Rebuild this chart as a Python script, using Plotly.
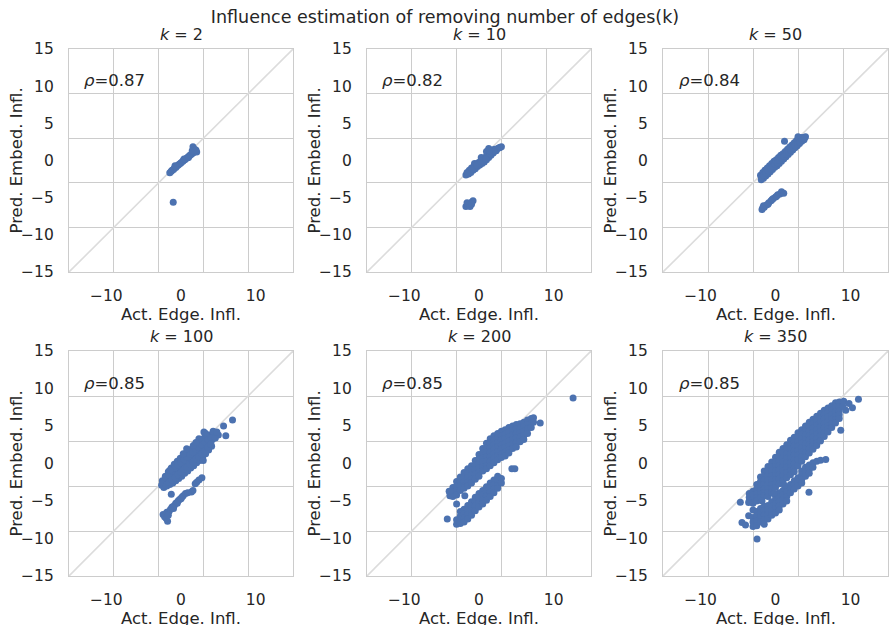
import plotly.graph_objects as go

# ---------------- data ----------------
k_values = [2, 10, 50, 100, 200, 350]
rho_values = [0.87, 0.82, 0.84, 0.85, 0.85, 0.85]
x_ticks = [-10, 0, 10]
y_ticks = [-15, -10, -5, 0, 5, 10, 15]
axis_range = [-15, 15]
diag = [-15, 15]
x_label = "Act. Edge. Infl."
y_label = "Pred. Embed. Infl."
main_title = "Influence estimation of removing number of edges(k)"

k2_points = [(-1.5, -1.65), (-1.3, -1.45), (-1.2, -1.3), (-1.0, -1.2), (-0.9, -1.05), (-0.7, -0.95),
             (-0.6, -0.8), (-0.4, -0.65), (-0.3, -0.55), (-0.1, -0.4), (0.0, -0.3), (0.2, -0.15),
             (0.3, -0.05), (0.5, 0.1), (0.6, 0.2), (0.8, 0.35), (0.9, 0.45), (1.1, 0.6), (1.2, 0.7),
             (1.4, 0.85), (1.6, 1.0), (1.7, 1.1), (1.9, 1.2), (2.1, 1.15), (1.6, 1.85), (-0.8, -0.7),
             (0.4, 0.2), (1.0, 0.4), (1.8, 1.5), (1.5, 1.3), (2.0, 1.4), (-1.04, -5.6)]

k10_points = [(-1.75, -1.95), (-1.6, -1.6), (-1.4, -1.8), (-1.3, -1.3), (-1.1, -1.6), (-1.0, -1.0),
              (-0.8, -1.3), (-0.7, -0.8), (-0.5, -1.1), (-0.4, -0.5), (-0.2, -0.8), (-0.1, -0.3),
              (0.1, -0.6), (0.2, -0.1), (0.4, -0.4), (0.5, 0.2), (0.7, -0.2), (0.8, 0.4), (1.0, 0.1),
              (1.1, 0.8), (1.3, 0.4), (1.3, 1.6), (1.5, 1.2), (1.6, 0.7), (1.8, 1.4), (1.9, 1.0),
              (2.1, 1.5), (2.3, 1.3), (2.5, 1.6), (2.7, 1.7), (3.0, 1.85), (1.0, 1.2), (0.3, 0.4),
              (-0.6, -0.4), (-1.5, -1.75), (-0.9, -1.15), (-0.3, -0.6), (0.3, -0.1), (0.9, 0.25),
              (1.5, 0.9), (2.2, 1.4), (2.8, 1.75), (2.0, 1.2), (1.4, 1.3),
              (-1.75, -6.2), (-1.5, -6.0), (-1.3, -5.8), (-1.0, -5.6), (-0.8, -5.4),
              (-1.6, -5.7), (-1.2, -6.2), (-1.0, -5.9)]

k50_points = [(-2.0, -2.0), (-1.9, -2.6), (-1.7, -1.6), (-1.6, -2.4), (-1.4, -1.3), (-1.3, -2.1),
              (-1.1, -1.0), (-1.0, -1.8), (-0.8, -0.7), (-0.7, -1.5), (-0.5, -0.4), (-0.4, -1.2),
              (-0.2, -0.1), (-0.1, -0.9), (0.1, 0.1), (0.2, -0.7), (0.4, 0.4), (0.5, -0.4),
              (0.7, 0.7), (0.8, -0.1), (1.0, 0.9), (1.1, 0.2), (1.3, 1.2), (1.4, 0.5), (1.6, 1.5),
              (1.7, 0.8), (1.9, 1.8), (2.0, 1.1), (2.2, 2.1), (2.3, 1.4), (2.5, 2.4), (2.6, 1.7),
              (2.8, 2.7), (2.9, 2.0), (3.1, 2.9), (3.2, 2.3), (3.4, 3.1), (3.5, 2.6), (3.7, 3.1),
              (3.8, 2.8), (4.0, 3.2), (3.0, 3.2), (1.2, 2.6), (0.0, -0.4), (1.5, 1.0), (2.6, 2.1),
              (-1.2, -1.5),
              (-1.85, -2.2), (-1.55, -1.95), (-1.25, -1.65), (-0.95, -1.4), (-0.65, -1.1),
              (-0.35, -0.8), (-0.05, -0.55), (0.25, -0.3), (0.55, 0.0), (0.85, 0.3), (1.15, 0.55),
              (1.45, 0.85), (1.75, 1.1), (2.05, 1.4), (2.35, 1.7), (2.65, 1.95), (2.95, 2.2),
              (3.25, 2.5), (3.55, 2.8), (3.85, 3.0),
              (-1.8, -6.6), (-1.5, -6.3), (-1.2, -6.0), (-0.9, -5.7), (-0.6, -5.4),
              (-0.3, -5.1), (0.0, -4.9), (0.3, -4.6), (0.6, -4.5), (0.8, -4.2), (1.1, -4.4),
              (-1.6, -6.1), (-1.0, -5.9), (-1.7, -6.35), (-0.45, -5.25), (0.15, -4.8)]

k100_points = [(-2.5, -2.3), (-2.1, -1.7), (-1.7, -1.1), (-1.3, -0.6), (-0.9, -0.1), (-0.5, 0.3),
               (-0.1, 0.7), (0.3, 1.0), (0.7, 1.4), (1.1, 1.7), (1.5, 2.0), (1.9, 2.4), (2.3, 2.8),
               (2.7, 3.1), (3.1, 3.4), (3.5, 3.6), (3.9, 3.8), (4.3, 4.0),
               (-2.6, -2.9), (-2.2, -2.6), (-1.8, -2.2), (-1.4, -1.9), (-1.0, -1.5), (-0.6, -1.1),
               (-0.2, -0.8), (0.2, -0.4), (0.6, -0.1), (1.0, 0.3), (1.4, 0.7), (1.8, 1.0), (2.2, 1.4),
               (2.6, 1.7), (3.0, 2.1), (3.4, 2.5), (3.8, 2.8), (4.2, 3.2),
               (-2.3, -3.2), (-1.9, -3.0), (-1.5, -2.8), (-1.1, -2.6), (-0.7, -2.3), (-0.3, -2.0),
               (0.1, -1.7), (0.5, -1.3), (0.9, -1.0), (1.3, -0.6), (1.7, -0.3), (2.1, 0.1), (2.5, 0.4),
               (2.9, 0.8), (3.3, 1.3), (3.7, 1.8), (4.1, 2.3),
               (-2.4, -2.5), (-2.0, -1.9), (-1.6, -1.5), (-1.2, -1.0), (-0.8, -0.6), (-0.4, -0.2),
               (0.0, 0.1), (0.4, 0.5), (0.8, 0.8), (1.2, 1.2), (1.6, 1.5), (2.0, 1.9), (2.4, 2.2),
               (2.8, 2.5), (3.2, 2.9), (3.6, 3.2), (4.0, 3.5), (4.4, 3.6),
               (-2.0, -2.9), (-1.6, -2.5), (-1.2, -2.2), (-0.8, -1.9), (-0.4, -1.5), (0.0, -1.2),
               (0.4, -0.8), (0.8, -0.5), (1.2, -0.1), (1.6, 0.2), (2.0, 0.6), (2.4, 0.9), (2.8, 1.3),
               (3.2, 1.7), (3.6, 2.2), (4.0, 2.6),
               (1.65, 2.4), (2.4, 3.3), (3.3, 4.0), (2.0, 2.8), (0.3, 1.3), (-1.5, -0.9),
               (0.76, 1.97), (3.07, 4.2), (4.3, 4.3), (5.0, 3.8), (5.7, 5.0), (6.0, 3.7), (6.9, 5.8),
               (2.98, 0.4), (4.6, 3.4), (4.8, 4.2),
               (-2.4, -6.8), (-2.2, -7.1), (-1.8, -7.7), (-1.9, -6.5), (-1.6, -6.4), (-1.4, -6.1),
               (-1.2, -5.8), (-0.9, -5.6), (-0.7, -5.3), (-0.4, -5.0), (-0.2, -4.8), (0.1, -4.5),
               (0.3, -4.3), (-1.3, -4.1), (1.4, -3.8), (1.6, -3.6), (1.9, -2.7), (2.1, -2.5),
               (2.4, -2.2), (2.8, -1.9), (0.6, -4.0), (0.9, -3.9), (-1.0, -6.0),
               (-2.0, -7.3), (-1.7, -6.9), (-0.5, -5.3), (0.0, -4.7), (-1.1, -5.9)]

k200_points = [(-3.9, -3.8), (-3.9, -4.3),
               (-3.5, -3.2), (-3.5, -3.8), (-3.5, -4.4),
               (-3.0, -2.4), (-3.0, -3.0), (-3.0, -3.6), (-3.0, -4.2),
               (-2.5, -1.8), (-2.5, -2.4), (-2.5, -3.0), (-2.5, -3.6),
               (-2.0, -1.2), (-2.0, -1.8), (-2.0, -2.4), (-2.0, -3.0), (-2.0, -3.3),
               (-1.5, -0.7), (-1.5, -1.3), (-1.5, -1.9), (-1.5, -2.5), (-1.5, -3.0),
               (-1.0, -0.3), (-1.0, -0.9), (-1.0, -1.5), (-1.0, -2.1), (-1.0, -2.6),
               (-0.5, 0.4), (-0.5, -0.2), (-0.5, -0.8), (-0.5, -1.4), (-0.5, -2.1),
               (0.0, 1.2), (0.0, 0.6), (0.0, 0.0), (0.0, -0.6), (0.0, -1.2), (0.0, -1.7),
               (0.5, 2.0), (0.5, 1.4), (0.5, 0.8), (0.5, 0.2), (0.5, -0.4), (0.5, -1.0),
               (1.0, 2.7), (1.0, 2.1), (1.0, 1.5), (1.0, 0.9), (1.0, 0.3), (1.0, -0.3), (1.0, -0.7),
               (1.5, 3.3), (1.5, 2.7), (1.5, 2.1), (1.5, 1.5), (1.5, 0.9), (1.5, 0.3), (1.5, -0.3),
               (2.0, 3.7), (2.0, 3.1), (2.0, 2.5), (2.0, 1.9), (2.0, 1.3), (2.0, 0.7), (2.0, 0.1),
               (2.5, 4.0), (2.5, 3.4), (2.5, 2.8), (2.5, 2.2), (2.5, 1.6), (2.5, 1.0), (2.5, 0.5),
               (3.0, 4.3), (3.0, 3.7), (3.0, 3.1), (3.0, 2.5), (3.0, 1.9), (3.0, 1.3), (3.0, 0.8),
               (3.5, 4.5), (3.5, 3.9), (3.5, 3.3), (3.5, 2.7), (3.5, 2.1), (3.5, 1.5), (3.5, 1.0),
               (4.0, 4.8), (4.0, 4.2), (4.0, 3.6), (4.0, 3.0), (4.0, 2.4), (4.0, 1.8), (4.0, 1.4),
               (4.5, 5.0), (4.5, 4.4), (4.5, 3.8), (4.5, 3.2), (4.5, 2.6), (4.5, 2.0),
               (5.0, 5.2), (5.0, 4.6), (5.0, 4.0), (5.0, 3.4), (5.0, 2.8), (5.0, 2.2),
               (5.5, 5.3), (5.5, 4.7), (5.5, 4.1), (5.5, 3.5), (5.5, 2.9),
               (6.0, 5.5), (6.0, 4.9), (6.0, 4.3), (6.0, 3.7), (6.0, 3.2),
               (6.5, 5.8), (6.5, 5.2), (6.5, 4.6), (6.5, 4.0),
               (7.0, 6.0), (7.0, 5.4), (7.0, 4.8), (7.3, 6.1), (7.3, 5.5), (8.2, 5.4),
               (12.6, 8.75), (4.4, -0.7), (4.8, -0.7), (-3.0, -5.4), (-1.9, -4.3), (-4.0, -3.7),
               (-4.25, -7.4), (-3.0, -8.1), (-3.0, -7.5),
               (-2.5, -6.4), (-2.5, -7.0), (-2.5, -7.6), (-2.5, -8.0),
               (-2.0, -6.1), (-2.0, -6.7), (-2.0, -7.3), (-2.0, -7.8),
               (-1.5, -5.6), (-1.5, -6.2), (-1.5, -6.8), (-1.5, -7.4),
               (-1.0, -5.1), (-1.0, -5.7), (-1.0, -6.3), (-1.0, -6.9),
               (-0.5, -4.5), (-0.5, -5.1), (-0.5, -5.7), (-0.5, -6.3),
               (0.0, -4.0), (0.0, -4.6), (0.0, -5.2), (0.0, -5.8),
               (0.5, -3.6), (0.5, -4.2), (0.5, -4.8), (0.5, -5.4),
               (1.0, -3.1), (1.0, -3.7), (1.0, -4.3), (1.0, -4.9),
               (1.5, -2.6), (1.5, -3.2), (1.5, -3.8), (1.5, -4.4),
               (2.0, -2.2), (2.0, -2.8), (2.0, -3.4), (2.0, -3.9),
               (2.5, -1.7), (2.5, -2.3), (2.5, -2.9), (2.5, -3.3),
               (3.0, -2.0), (3.0, -2.6)]

k350_points = [(-3.5, -4.0), (-3.5, -4.5), (-3.5, -5.0),
               (-3.0, -3.7), (-3.0, -4.2), (-3.0, -4.8), (-3.0, -5.3),
               (-2.5, -2.8), (-2.5, -3.4), (-2.5, -4.0), (-2.5, -4.6), (-2.5, -5.0),
               (-2.0, -1.8), (-2.0, -2.4), (-2.0, -3.0), (-2.0, -3.6), (-2.0, -4.1), (-2.0, -4.6),
               (-1.5, -1.0), (-1.5, -1.6), (-1.5, -2.2), (-1.5, -2.8), (-1.5, -3.4), (-1.5, -3.9),
               (-1.5, -4.3),
               (-1.0, -0.4), (-1.0, -1.0), (-1.0, -1.6), (-1.0, -2.2), (-1.0, -2.8), (-1.0, -3.4),
               (-1.0, -3.9), (-1.0, -4.4),
               (-0.5, 0.2), (-0.5, -0.4), (-0.5, -1.0), (-0.5, -1.6), (-0.5, -2.2), (-0.5, -2.8),
               (-0.5, -3.4), (-0.5, -3.9),
               (0.0, 0.85), (0.0, 0.2), (0.0, -0.4), (0.0, -1.0), (0.0, -1.6), (0.0, -2.2),
               (0.0, -2.7), (0.0, -3.2),
               (0.5, 1.5), (0.5, 0.9), (0.5, 0.3), (0.5, -0.3), (0.5, -0.9), (0.5, -1.5),
               (0.5, -2.1), (0.5, -2.7),
               (1.0, 2.0), (1.0, 1.4), (1.0, 0.8), (1.0, 0.2), (1.0, -0.4), (1.0, -1.0),
               (1.0, -1.6), (1.0, -2.3),
               (1.5, 2.5), (1.5, 1.9), (1.5, 1.3), (1.5, 0.7), (1.5, 0.1), (1.5, -0.5),
               (1.5, -1.2), (1.5, -1.9),
               (2.0, 3.1), (2.0, 2.5), (2.0, 1.9), (2.0, 1.3), (2.0, 0.7), (2.0, 0.1),
               (2.0, -0.5), (2.0, -1.0), (2.0, -1.5),
               (2.5, 3.5), (2.5, 2.9), (2.5, 2.3), (2.5, 1.7), (2.5, 1.1), (2.5, 0.5),
               (2.5, -0.1), (2.5, -0.6), (2.5, -1.1),
               (3.0, 4.1), (3.0, 3.5), (3.0, 2.9), (3.0, 2.3), (3.0, 1.7), (3.0, 1.1),
               (3.0, 0.5), (3.0, -0.3),
               (3.5, 4.5), (3.5, 3.9), (3.5, 3.3), (3.5, 2.7), (3.5, 2.1), (3.5, 1.5),
               (3.5, 0.9), (3.5, 0.3),
               (4.0, 5.0), (4.0, 4.4), (4.0, 3.8), (4.0, 3.2), (4.0, 2.6), (4.0, 2.0),
               (4.0, 1.4), (4.0, 0.9),
               (4.5, 5.5), (4.5, 4.9), (4.5, 4.3), (4.5, 3.7), (4.5, 3.1), (4.5, 2.5),
               (4.5, 1.9), (4.5, 1.4),
               (5.0, 5.9), (5.0, 5.3), (5.0, 4.7), (5.0, 4.1), (5.0, 3.5), (5.0, 2.9),
               (5.0, 2.4), (5.0, 1.9),
               (5.5, 6.3), (5.5, 5.7), (5.5, 5.1), (5.5, 4.5), (5.5, 3.9), (5.5, 3.3),
               (5.5, 2.8), (5.5, 2.4),
               (6.0, 6.7), (6.0, 6.1), (6.0, 5.5), (6.0, 4.9), (6.0, 4.3), (6.0, 3.7), (6.0, 3.0),
               (6.5, 7.1), (6.5, 6.5), (6.5, 5.9), (6.5, 5.3), (6.5, 4.7), (6.5, 4.1), (6.5, 3.6),
               (7.0, 7.4), (7.0, 6.8), (7.0, 6.2), (7.0, 5.6), (7.0, 5.0), (7.0, 4.6), (7.0, 4.2),
               (7.5, 7.7), (7.5, 7.1), (7.5, 6.5), (7.5, 5.9), (7.5, 5.3), (7.5, 4.8),
               (8.0, 8.1), (8.0, 7.5), (8.0, 6.9), (8.0, 6.3), (8.0, 5.8), (8.0, 5.4),
               (8.5, 8.2), (8.5, 7.6), (8.5, 7.0), (8.5, 6.5), (8.5, 6.0),
               (9.1, 8.3), (11.06, 8.58), (10.26, 7.42), (9.37, 7.1), (8.7, 4.43), (9.8, 8.0),
               (-4.69, -5.17), (-3.58, -5.2), (9.0, 7.6),
               (-4.47, -7.85), (-3.58, -6.96), (-2.46, -10.08), (-4.0, -8.2),
               (-3.0, -6.2), (-3.0, -7.2), (-3.0, -7.8), (-3.0, -8.4),
               (-2.5, -6.4), (-2.5, -7.0), (-2.5, -7.6), (-2.5, -8.3),
               (-2.0, -6.0), (-2.0, -6.6), (-2.0, -7.2), (-2.0, -7.8),
               (-1.5, -5.7), (-1.5, -6.3), (-1.5, -6.9), (-1.5, -7.5), (-1.5, -8.1),
               (-1.0, -5.6), (-1.0, -6.2), (-1.0, -6.8), (-1.0, -7.4),
               (-0.5, -5.1), (-0.5, -5.7), (-0.5, -6.3), (-0.5, -6.9),
               (0.0, -4.3), (0.0, -4.8), (0.0, -5.4), (0.0, -6.0), (0.0, -6.6),
               (0.5, -3.9), (0.5, -4.5), (0.5, -5.1), (0.5, -5.7), (0.5, -6.2),
               (1.0, -3.6), (1.0, -4.2), (1.0, -4.8), (1.0, -5.4),
               (1.5, -3.2), (1.5, -3.8), (1.5, -4.4), (1.5, -5.0),
               (2.0, -2.8), (2.0, -3.4), (2.0, -3.9),
               (2.5, -2.3), (2.5, -2.9), (2.5, -3.4),
               (3.0, -1.9), (3.0, -2.5), (3.0, -3.0),
               (3.5, -1.0), (3.5, -1.5), (3.5, -2.1), (3.5, -2.6),
               (4.0, -0.5), (4.0, -1.1), (4.0, -1.7),
               (4.5, -0.2), (4.5, -0.8), (4.5, -1.3), (4.46, -3.83),
               (5.0, 0.1), (5.0, -0.5), (5.5, 0.3), (6.0, 0.45), (6.7, 0.55),
               (-1.8, -5.0), (1.2, -2.9), (-0.2, -4.0)]

panel_points = [k2_points, k10_points, k50_points, k100_points, k200_points, k350_points]

# ---------------- style ----------------
W, H = 890, 625
TEXT = "#262626"
GRID = "#cccccc"
DOT = "#4c72b0"
FONT = "DejaVu Sans"

x_px = [(69, 293), (367, 591), (663, 888)]
y_px = [(49, 272), (351, 576)]
x_domains = [[a / W, b / W] for a, b in x_px]
y_domains = [[1 - b / H, 1 - a / H] for a, b in y_px]

fig = go.Figure()
annotations = []

for i, pts in enumerate(panel_points):
    r, c = divmod(i, 3)
    n = "" if i == 0 else str(i + 1)
    xref, yref = "x" + n, "y" + n

    fig.add_trace(go.Scatter(x=diag, y=diag, mode="lines",
                             line=dict(color="#dcdcdc", width=1.6),
                             xaxis=xref, yaxis=yref, showlegend=False, hoverinfo="skip"))
    fig.add_trace(go.Scatter(x=[p[0] for p in pts], y=[p[1] for p in pts], mode="markers",
                             marker=dict(color=DOT, size=7, line=dict(width=0)),
                             xaxis=xref, yaxis=yref, showlegend=False))

    common = dict(range=axis_range, showgrid=False, zeroline=False, showline=True, mirror=True,
                  linecolor=GRID, linewidth=1.25, ticks="", automargin=False,
                  tickfont=dict(family=FONT, size=15.5, color=TEXT),
                  minor=dict(tick0=-9, dtick=6, showgrid=True, gridcolor=GRID, gridwidth=1.25, ticks=""))
    fig.layout["xaxis" + n] = dict(common, domain=x_domains[c], anchor=yref, tickvals=x_ticks,
                                   ticklabelstandoff=9)
    fig.layout["yaxis" + n] = dict(common, domain=y_domains[r], anchor=xref, tickvals=y_ticks,
                                   ticklabelstandoff=11)

    x_mid = sum(x_domains[c]) / 2
    annotations.append(dict(text=f"<i>k</i> = {k_values[i]}", xref="paper", yref="paper",
                            x=x_mid, y=y_domains[r][1], xanchor="center",
                            yanchor="bottom", yshift=3, showarrow=False,
                            font=dict(family=FONT, size=16, color=TEXT)))
    annotations.append(dict(text=f"<i>ρ</i>={rho_values[i]:.2f}", xref=xref, yref=yref,
                            x=-13.2, y=10.7, xanchor="left", yanchor="middle", showarrow=False,
                            font=dict(family=FONT, size=16.5, color=TEXT)))
    annotations.append(dict(text=x_label, xref="paper", yref="paper", x=x_mid, y=y_domains[r][0],
                            xanchor="center", yanchor="middle", yshift=-42, showarrow=False,
                            font=dict(family=FONT, size=16.5, color=TEXT)))
    annotations.append(dict(text=y_label, xref="paper", yref="paper", x=x_domains[c][0],
                            y=sum(y_domains[r]) / 2, xanchor="center", yanchor="middle",
                            xshift=-53, textangle=-90, showarrow=False,
                            font=dict(family=FONT, size=16.5, color=TEXT)))

fig.update_layout(
    width=W, height=H, margin=dict(l=0, r=0, t=0, b=0),
    paper_bgcolor="white", plot_bgcolor="white",
    title=dict(text=main_title, x=0.5, xanchor="center",
               y=1 - 17 / H, yanchor="middle", font=dict(family=FONT, size=17.5, color=TEXT)),
    annotations=annotations,
)

fig.write_html("out.html")
